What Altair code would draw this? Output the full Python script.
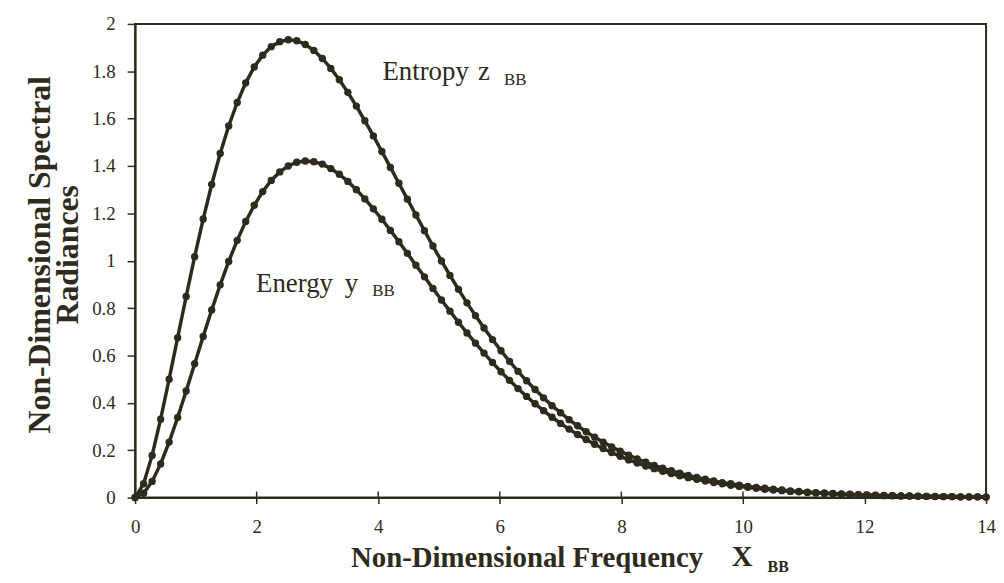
import altair as alt
import pandas as pd

# ---- data ----
x_vals = [0.00, 0.14, 0.28, 0.42, 0.56, 0.70, 0.84, 0.98, 1.12, 1.26,
          1.40, 1.54, 1.68, 1.82, 1.96, 2.10, 2.24, 2.38, 2.52, 2.66,
          2.80, 2.94, 3.08, 3.22, 3.36, 3.50, 3.64, 3.78, 3.92, 4.06,
          4.20, 4.34, 4.48, 4.62, 4.76, 4.90, 5.04, 5.18, 5.32, 5.46,
          5.60, 5.74, 5.88, 6.02, 6.16, 6.30, 6.44, 6.58, 6.72, 6.86,
          7.00, 7.14, 7.28, 7.42, 7.56, 7.70, 7.84, 7.98, 8.12, 8.26,
          8.40, 8.54, 8.68, 8.82, 8.96, 9.10, 9.24, 9.38, 9.52, 9.66,
          9.80, 9.94, 10.08, 10.22, 10.36, 10.50, 10.64, 10.78, 10.92, 11.06,
          11.20, 11.34, 11.48, 11.62, 11.76, 11.90, 12.04, 12.18, 12.32, 12.46,
          12.60, 12.74, 12.88, 13.02, 13.16, 13.30, 13.44, 13.58, 13.72, 13.86,
          14.00]

energy_y = [0.000, 0.018, 0.068, 0.142, 0.234, 0.338, 0.450, 0.565, 0.680, 0.792,
            0.898, 0.997, 1.086, 1.166, 1.234, 1.292, 1.339, 1.375, 1.400, 1.416,
            1.421, 1.418, 1.408, 1.389, 1.365, 1.335, 1.300, 1.261, 1.219, 1.175,
            1.128, 1.080, 1.031, 0.981, 0.932, 0.883, 0.834, 0.787, 0.740, 0.695,
            0.652, 0.610, 0.570, 0.531, 0.495, 0.460, 0.427, 0.396, 0.367, 0.339,
            0.313, 0.289, 0.266, 0.245, 0.225, 0.207, 0.190, 0.174, 0.159, 0.146,
            0.133, 0.122, 0.111, 0.101, 0.092, 0.084, 0.077, 0.070, 0.063, 0.058,
            0.052, 0.047, 0.043, 0.039, 0.035, 0.032, 0.029, 0.026, 0.024, 0.021,
            0.019, 0.017, 0.016, 0.014, 0.013, 0.011, 0.010, 0.009, 0.008, 0.008,
            0.007, 0.006, 0.005, 0.005, 0.004, 0.004, 0.004, 0.003, 0.003, 0.003,
            0.002]

entropy_z = [0.000, 0.058, 0.178, 0.331, 0.500, 0.675, 0.849, 1.017, 1.176, 1.322,
             1.453, 1.569, 1.668, 1.751, 1.818, 1.868, 1.904, 1.925, 1.933, 1.929,
             1.913, 1.888, 1.854, 1.812, 1.764, 1.711, 1.653, 1.591, 1.527, 1.461,
             1.394, 1.327, 1.260, 1.193, 1.127, 1.062, 0.999, 0.938, 0.879, 0.822,
             0.768, 0.716, 0.667, 0.620, 0.575, 0.533, 0.493, 0.456, 0.421, 0.388,
             0.358, 0.329, 0.303, 0.278, 0.255, 0.234, 0.214, 0.196, 0.179, 0.163,
             0.149, 0.136, 0.124, 0.113, 0.103, 0.093, 0.085, 0.077, 0.070, 0.063,
             0.058, 0.052, 0.047, 0.043, 0.039, 0.035, 0.032, 0.028, 0.026, 0.023,
             0.021, 0.019, 0.017, 0.015, 0.014, 0.012, 0.011, 0.010, 0.009, 0.008,
             0.007, 0.007, 0.006, 0.005, 0.005, 0.004, 0.004, 0.003, 0.003, 0.003,
             0.002]

x_ticks = [0, 2, 4, 6, 8, 10, 12, 14]
y_ticks = [0, 0.2, 0.4, 0.6, 0.8, 1, 1.2, 1.4, 1.6, 1.8, 2]

# annotation labels (in data coordinates)
big_labels = ["Entropy", "z", "Energy", "y"]
big_x = [4.07, 5.64, 1.99, 3.45]
big_y = [1.765, 1.765, 0.868, 0.868]
sub_labels = ["BB", "BB"]
sub_x = [6.07, 3.90]
sub_y = [1.740, 0.851]

INK = "#2e2a1c"
FONT = "Liberation Serif"
W, H = 857, 477

n = len(x_vals)
df = pd.DataFrame({
    "x": x_vals + x_vals,
    "v": energy_y + entropy_z,
    "s": ["Energy"] * n + ["Entropy"] * n,
})
tick_df = pd.DataFrame({"t": x_ticks})
big_df = pd.DataFrame({"label": big_labels, "x": big_x, "y": big_y})
sub_df = pd.DataFrame({"label": sub_labels, "x": sub_x, "y": sub_y})

xs = alt.Scale(domain=[0, 14], nice=False, zero=False)
ys = alt.Scale(domain=[0, 2], nice=False, zero=False)

x_axis = alt.Axis(values=x_ticks, format="~g", tickSize=6, labelPadding=14,
                  labelFlush=False, labelBound=False, labelOverlap=False,
                  labelFont=FONT, labelFontSize=19, labelColor=INK,
                  title="Non-Dimensional Frequency", titleFontSize=29,
                  titleFont=FONT, titleFontWeight="bold", titleColor=INK,
                  titleAnchor="start", titleAlign="left", titleX=217, titleY=69,
                  titleBaseline="alphabetic")
y_axis = alt.Axis(values=y_ticks, format="~g", tickSize=8, labelPadding=12,
                  labelFlush=False, labelBound=False, labelOverlap=False,
                  labelFont=FONT, labelFontSize=19, labelColor=INK,
                  title=["Non-Dimensional Spectral", "Radiances"], titleFontSize=32,
                  titleFont=FONT, titleFontWeight="bold", titleColor=INK,
                  titleLineHeight=28, titleX=-111, titleY=232, titleAlign="center",
                  titleBaseline="top", titleAngle=270)

base = alt.Chart(df)
lines = base.mark_line(color=INK, strokeWidth=3.5).encode(
    x=alt.X("x:Q", scale=xs, axis=x_axis),
    y=alt.Y("v:Q", scale=ys, axis=y_axis),
    detail="s:N",
)
points = base.mark_circle(color=INK, size=55, opacity=1).encode(
    x=alt.X("x:Q", scale=xs),
    y=alt.Y("v:Q", scale=ys),
    detail="s:N",
)
inner_ticks = alt.Chart(tick_df).mark_rule(color=INK, strokeWidth=1.5).encode(
    x=alt.X("t:Q", scale=xs),
    y=alt.value(H - 6),
    y2=alt.value(H),
)
big_text = alt.Chart(big_df).mark_text(
    font=FONT, fontSize=27, color=INK, align="left", baseline="alphabetic"
).encode(x=alt.X("x:Q", scale=xs), y=alt.Y("y:Q", scale=ys), text="label:N")
sub_text = alt.Chart(sub_df).mark_text(
    font=FONT, fontSize=17, color=INK, align="left", baseline="alphabetic"
).encode(x=alt.X("x:Q", scale=xs), y=alt.Y("y:Q", scale=ys), text="label:N")

title_x = alt.Chart(pd.DataFrame({"label": ["X"]})).mark_text(
    font=FONT, fontSize=29, fontWeight="bold", color=INK, align="left", baseline="alphabetic"
).encode(x=alt.value(601), y=alt.value(H + 69), text="label:N")
title_bb = alt.Chart(pd.DataFrame({"label": ["BB"]})).mark_text(
    font=FONT, fontSize=16, fontWeight="bold", color=INK, align="left", baseline="alphabetic"
).encode(x=alt.value(637), y=alt.value(H + 75), text="label:N")

chart = alt.layer(lines, points, inner_ticks, big_text, sub_text, title_x, title_bb).properties(
    width=W, height=H,
    autosize=alt.AutoSizeParams(type="none"),
    padding={"left": 128, "top": 14, "right": 10, "bottom": 76},
    background="white",
).configure_view(
    stroke=INK, strokeWidth=2
).configure_axis(
    grid=False, domainColor=INK, domainWidth=2, tickColor=INK, tickWidth=1.5,
)

chart.save("out.html", embed_options={"renderer": "svg", "actions": False})
